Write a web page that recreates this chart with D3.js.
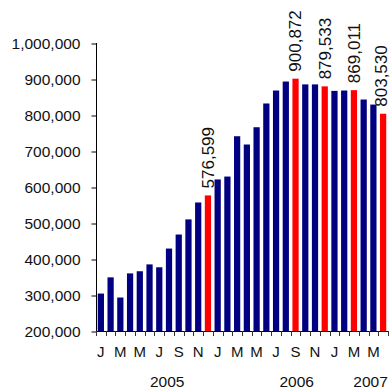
<!DOCTYPE html>
<html>
<head>
<meta charset="utf-8">
<script src="https://cdn.jsdelivr.net/npm/d3@7"></script>
<style>
  html, body { margin: 0; padding: 0; background: #fff; }
  svg { display: block; font-family: Arial, "Liberation Sans", sans-serif; }
</style>
</head>
<body>
<svg id="chart" width="390" height="389"></svg>
<script>
// ---- data ----
const categories = [
  "Jan 2005","Feb 2005","Mar 2005","Apr 2005","May 2005","Jun 2005",
  "Jul 2005","Aug 2005","Sep 2005","Oct 2005","Nov 2005","Dec 2005",
  "Jan 2006","Feb 2006","Mar 2006","Apr 2006","May 2006","Jun 2006",
  "Jul 2006","Aug 2006","Sep 2006","Oct 2006","Nov 2006","Dec 2006",
  "Jan 2007","Feb 2007","Mar 2007","Apr 2007","May 2007","Jun 2007"
];
const values = [
  304000, 349000, 293000, 360000, 366000, 385000,
  377000, 429000, 468000, 510000, 557000, 576599,
  621000, 629000, 741000, 718000, 766000, 832000,
  868000, 893000, 900872, 885000, 885000, 879533,
  867000, 868000, 869011, 843000, 829000, 803530
];
const highlighted = [
  false,false,false,false,false,false,
  false,false,false,false,false,true,
  false,false,false,false,false,false,
  false,false,true,false,false,true,
  false,false,true,false,false,true
];
const tickLabels = [
  "J","","M","","M","","J","","S","","N","",
  "J","","M","","M","","J","","S","","N","",
  "J","","M","","M",""
];
const yTicks = [200000,300000,400000,500000,600000,700000,800000,900000,1000000];
const years = ["2005","2006","2007"];
const yearAnchors = ["Aug 2005","Sep 2006","May 2007"];

// ---- layout ----
const svg = d3.select("#chart");
const pL = 96, pR = 388, pT = 43, pB = 331;

const x = d3.scaleBand().domain(categories).range([pL, pR]).paddingInner(0.36).paddingOuter(0.18);
const step = x.step();
const gap = (step - x.bandwidth()) / 2;
const y = d3.scaleLinear().domain([200000, 1000000]).range([pB, pT]);

const navy = "#000080", red = "#ff0000";

// bars
svg.append("g").selectAll("rect")
  .data(categories)
  .join("rect")
  .attr("x", d => x(d))
  .attr("width", x.bandwidth())
  .attr("y", (d, i) => y(values[i]))
  .attr("height", (d, i) => y(200000) - y(values[i]))
  .attr("fill", (d, i) => highlighted[i] ? red : navy);

// value labels (highlighted bars)
const fmt = d3.format(",");
svg.append("g").selectAll("text")
  .data(categories.filter((d, i) => highlighted[i]))
  .join("text")
  .attr("transform", d => {
    const i = categories.indexOf(d);
    const cx = Math.min(x(d) + x.bandwidth() / 2, 381.5);
    return `translate(${cx},${y(values[i]) - 7}) rotate(-90)`;
  })
  .attr("dy", "0.35em")
  .attr("text-anchor", "start")
  .attr("font-size", "17px")
  .attr("fill", "#111")
  .text(d => fmt(values[categories.indexOf(d)]));

// y axis
const yAxis = d3.axisLeft(y).tickValues(yTicks).tickFormat(fmt).tickSize(5).tickPadding(11);
const gy = svg.append("g").attr("transform", `translate(${pL + 0.5},0.5)`).call(yAxis);
gy.select(".domain").remove();
gy.selectAll(".tick line").attr("stroke", "#000");
gy.selectAll(".tick text").attr("font-size", "15.5px").attr("font-family", "Arial, 'Liberation Sans', sans-serif").attr("fill", "#111");
svg.append("line")
  .attr("x1", pL + 0.5).attr("x2", pL + 0.5)
  .attr("y1", pT).attr("y2", pB + 4)
  .attr("stroke", "#000");

// x axis line + boundary ticks
svg.append("line")
  .attr("x1", pL).attr("x2", pR)
  .attr("y1", pB + 0.5).attr("y2", pB + 0.5)
  .attr("stroke", "#000");
const boundaries = categories.map(d => x(d) - gap).concat([pR]);
svg.append("g").selectAll("line")
  .data(boundaries)
  .join("line")
  .attr("x1", d => Math.round(d) + 0.5).attr("x2", d => Math.round(d) + 0.5)
  .attr("y1", pB).attr("y2", pB + 5)
  .attr("stroke", "#333");

// month letters
const xAxis = d3.axisBottom(x).tickSize(0).tickPadding(15).tickFormat((d, i) => tickLabels[i]);
const gx = svg.append("g").attr("transform", `translate(0,${pB})`).call(xAxis);
gx.select(".domain").remove();
gx.selectAll(".tick text").attr("font-size", "15px").attr("font-family", "Arial, 'Liberation Sans', sans-serif").attr("fill", "#111");

// years
const yearShift = [3, 6, 2];
svg.append("g").selectAll("text")
  .data(years)
  .join("text")
  .attr("x", (d, i) => x(yearAnchors[i]) - gap + yearShift[i])
  .attr("y", 387)
  .attr("text-anchor", "middle")
  .attr("font-size", "15.5px")
  .attr("fill", "#111")
  .text(d => d);
</script>
</body>
</html>
